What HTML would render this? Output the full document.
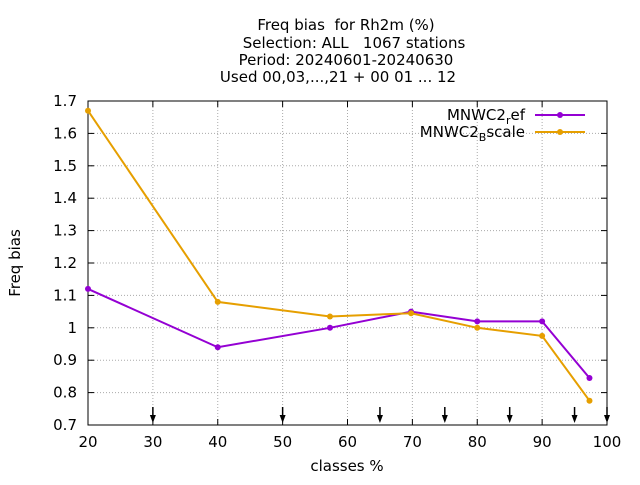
<!DOCTYPE html>
<html><head><meta charset="utf-8"><style>
body{margin:0;background:#fff}
svg text{font-family:"DejaVu Sans",sans-serif;fill:#000;white-space:pre}
</style></head><body>
<svg width="640" height="480" xmlns="http://www.w3.org/2000/svg">
<g id="title" font-size="15" text-anchor="middle">
<text x="346" y="30" xml:space="preserve">Freq bias  for Rh2m (%)</text>
<text x="354" y="48" xml:space="preserve">Selection: ALL   1067 stations</text>
<text x="346" y="65">Period: 20240601-20240630</text>
<text x="338" y="82">Used 00,03,...,21 + 00 01 ... 12</text>
</g>
<g id="grid"></g>
<rect x="88" y="101" width="519" height="324" fill="none" stroke="#000"/>
<g id="axes" font-size="15"></g>
<text x="347" y="471" font-size="15" text-anchor="middle">classes %</text>
<text transform="translate(20,263) rotate(-90)" font-size="15" text-anchor="middle">Freq bias</text>
<g id="series"></g>
<g font-size="15" text-anchor="end">
<g>
<text x="525" y="120">MNWC2<tspan font-size="11" dy="4">r</tspan><tspan dy="-4">ef</tspan></text>
<line x1="535" y1="115" x2="585" y2="115" stroke="#9400d3" stroke-width="2"/>
<circle cx="560" cy="115" r="3" fill="#9400d3"/>
</g>
<g>
<text x="525" y="137">MNWC2<tspan font-size="11" dy="4">B</tspan><tspan dy="-4">scale</tspan></text>
<line x1="535" y1="132" x2="585" y2="132" stroke="#e69f00" stroke-width="2"/>
<circle cx="560" cy="132" r="3" fill="#e69f00"/>
</g>
</g>
</svg>
<script>
const xTicks=[20,30,40,50,60,70,80,90,100];
const yTicks=[0.7,0.8,0.9,1,1.1,1.2,1.3,1.4,1.5,1.6,1.7];
const xVals=[20,40,57.3,69.8,80,90,97.3];
const refVals=[1.12,0.94,1.0,1.05,1.02,1.02,0.845];
const bscaleVals=[1.67,1.08,1.035,1.045,1.0,0.975,0.775];
const arrowX=[30,50,65,75,85,95,100];
const NS="http://www.w3.org/2000/svg";
const sx=v=>88+(v-20)*519/80, sy=v=>425-(v-0.7)*324;
function mk(tag,attrs,parent){const e=document.createElementNS(NS,tag);for(const k in attrs)e.setAttribute(k,attrs[k]);parent.appendChild(e);return e;}
const grid=document.getElementById('grid'),axes=document.getElementById('axes'),series=document.getElementById('series');
xTicks.forEach(t=>{
 const x=sx(t);
 if(t>20&&t<100){const l=mk('line',{x1:x,y1:101,x2:x,y2:425,stroke:'#aaa','stroke-dasharray':'1,2'},grid);
 
 }
 mk('line',{x1:x,y1:425,x2:x,y2:419,stroke:'#000'},axes);mk('line',{x1:x,y1:101,x2:x,y2:107,stroke:'#000'},axes);
 const tx=mk('text',{x:x,y:447,'text-anchor':'middle'},axes);tx.textContent=t;
 
 
});
yTicks.forEach(t=>{
 const y=sy(t);
 if(t>0.7&&t<1.7){const l=mk('line',{x1:88,y1:y,x2:607,y2:y,stroke:'#aaa','stroke-dasharray':'1,2'},grid);
 
 }
 mk('line',{x1:88,y1:y,x2:94,y2:y,stroke:'#000'},axes);mk('line',{x1:607,y1:y,x2:601,y2:y,stroke:'#000'},axes);
 const tx=mk('text',{x:77,y:y+5,'text-anchor':'end'},axes);tx.textContent=String(t);
 
 
});
arrowX.forEach(a=>{
 const x=sx(a);
 const g=mk('g',{},axes);
 
 
 mk('line',{x1:x,y1:407,x2:x,y2:420,stroke:'#000','stroke-width':1.5},g);
 mk('path',{d:`M${x-3},415 L${x+3},415 L${x},423 Z`,fill:'#000'},g);
});
function drawSeries(vals,color,name){
 const g=mk('g',{},series);
 
 
 mk('polyline',{points:xVals.map((x,i)=>sx(x)+','+sy(vals[i])).join(' '),fill:'none',stroke:color,'stroke-width':2},g);
 xVals.forEach((x,i)=>{const c=mk('circle',{cx:sx(x),cy:sy(vals[i]),r:3,fill:color},g);
 
 });
}
drawSeries(refVals,'#9400d3','series-ref');
drawSeries(bscaleVals,'#e69f00','series-bscale');
</script>
</body></html>
